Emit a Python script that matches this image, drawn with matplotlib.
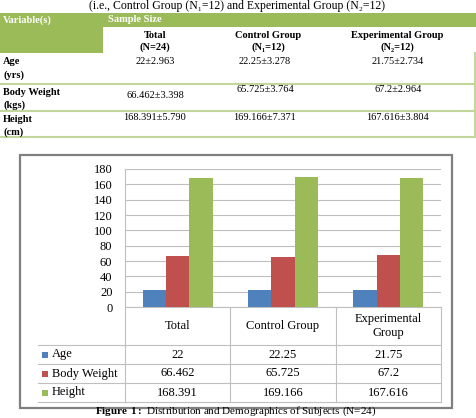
import numpy as np
import matplotlib.pyplot as plt
from matplotlib.patches import Rectangle

plt.rcParams['font.family'] = ['Liberation Serif', 'DejaVu Serif']
plt.rcParams['mathtext.fontset'] = 'custom'
plt.rcParams['mathtext.rm'] = 'Liberation Serif'
plt.rcParams['mathtext.bf'] = 'Liberation Serif:bold'

groups = ['Total', 'Control Group', 'Experimental\nGroup']
series = ['Age', 'Body Weight', 'Height']
age = [22, 22.25, 21.75]
weight = [66.462, 65.725, 67.2]
height = [168.391, 169.166, 167.616]
age_sd = [2.963, 3.278, 2.734]
weight_sd = [3.398, 3.764, 2.964]
height_sd = [5.790, 7.371, 3.804]
units = ['(yrs)', '(kgs)', '(cm)']
head_names = ['Total', 'Control Group', 'Experimental Group']
head_n = ['(N=24)', '(N\u2081=12)', '(N\u2082=12)']
yticks = np.arange(0, 181, 20)
colors = ['#4F81BD', '#C0504D', '#9BBB59']

means = [age, weight, height]
sds = [age_sd, weight_sd, height_sd]

W, H = 476, 418
fig = plt.figure(figsize=(4.76, 4.18), dpi=100)
page = fig.add_axes([0, 0, 1, 1])
page.set_xlim(0, W)
page.set_ylim(H, 0)
page.axis('off')

green = '#9BBB59'
light = '#C3D69B'

# ---- top table ----
page.text(237, 5.5, '(i.e., Control Group (N\u2081=12) and Experimental Group (N\u2082=12)',
          ha='center', va='center', fontsize=8.5)
page.add_patch(Rectangle((0, 13), W, 13.5, color=green, lw=0))
page.add_patch(Rectangle((0, 13), 103, 40, color=green, lw=0))
page.text(3, 20, 'Variable(s)', color='white', fontweight='bold', fontsize=7.5, va='center')
page.text(108, 20, 'Sample Size', color='white', fontweight='bold', fontsize=7.5, va='center')
head_x = [155, 268, 397]
for hx, name, n in zip(head_x, head_names, head_n):
    page.text(hx, 35, name, ha='center', va='center', fontweight='bold', fontsize=7.5)
    page.text(hx, 47, n, ha='center', va='center', fontweight='bold', fontsize=7.5)

row_tops = [53, 83.5, 110.5, 137]
for yl in row_tops[1:]:
    page.plot([0, W], [yl, yl], color=light, lw=1.5)
page.plot([475, 475], [53, 137], color=light, lw=1.5)
val_x = [155, 265, 398]
val_y = [[62, 62, 62], [95, 90, 90], [118, 118, 118]]
for r in range(3):
    top = row_tops[r]
    page.text(3, top + 9, series[r], fontweight='bold', fontsize=7.5, va='center')
    page.text(3, top + 22, units[r], fontweight='bold', fontsize=7.5, va='center')
    for c in range(3):
        page.text(val_x[c], val_y[r][c], '{:g}\u00b1{:.3f}'.format(means[r][c], sds[r][c]),
                  ha='center', va='center', fontsize=7.5)

# ---- chart ----
page.add_patch(Rectangle((20, 155), 432, 253, fill=False, ec='#808080', lw=1.6))
L, R, T, B = 125, 441, 169, 307
ax = fig.add_axes([L / W, (H - B) / H, (R - L) / W, (B - T) / H])
x = np.arange(len(groups))
bw = 0.222
for i, vals in enumerate(means):
    ax.bar(x + (i - 1) * bw, vals, bw, color=colors[i], zorder=3)
ax.set_xlim(-0.5, 2.5)
ax.set_ylim(0, 180)
ax.set_yticks(yticks)
ax.set_xticks([])
ax.yaxis.grid(True, color='#BFBFBF', lw=0.8)
ax.tick_params(axis='y', length=0, pad=9, labelsize=9)
for s in ['top', 'right']:
    ax.spines[s].set_visible(False)
for s in ['left', 'bottom']:
    ax.spines[s].set_color('#BFBFBF')
    ax.spines[s].set_linewidth(0.8)

# data table under the chart
cw = (R - L) / 3
lc = '#BFBFBF'
for yl in [345, 364, 383, 402]:
    page.plot([38, R], [yl, yl], color=lc, lw=0.8)
for xl in [L, L + cw, L + 2 * cw, R]:
    page.plot([xl, xl], [B, 402], color=lc, lw=0.8)
for c in range(3):
    cx = L + (c + 0.5) * cw
    page.text(cx, 326, groups[c], ha='center', va='center', fontsize=9, linespacing=1.2)
    for r in range(3):
        page.text(cx, 354.5 + 19 * r, '{:g}'.format(means[r][c]), ha='center', va='center', fontsize=9)
for r in range(3):
    yc = 354.5 + 19 * r
    page.add_patch(Rectangle((42, yc - 3), 6, 6, color=colors[r], lw=0))
    page.text(52, yc, series[r], va='center', fontsize=9)

page.text(236, 417.5, r'$\mathbf{Figure\ 1:}$ Distribution and Demographics of Subjects (N=24)',
          ha='center', va='bottom', fontsize=8)

fig.savefig('out.png', dpi=100)
